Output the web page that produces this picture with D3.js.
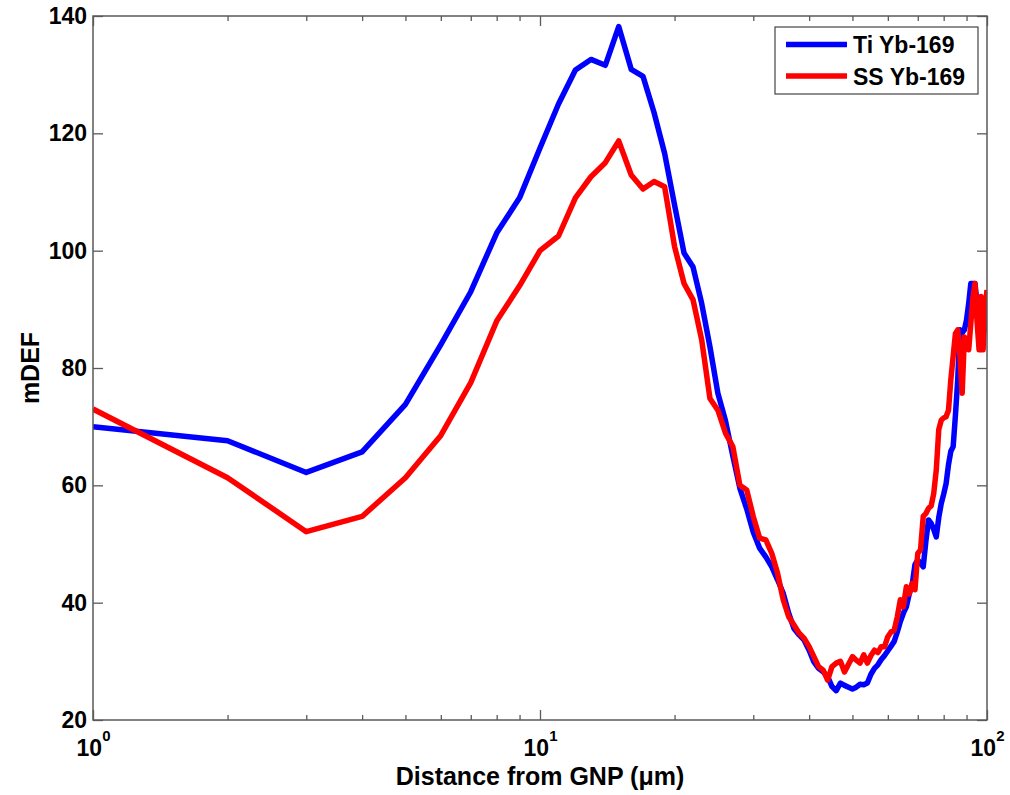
<!DOCTYPE html>
<html>
<head>
<meta charset="utf-8">
<script src="https://cdn.jsdelivr.net/npm/d3@7"></script>
<style>
  html, body { margin: 0; padding: 0; background: #fff; }
  svg { display: block; font-family: "Liberation Sans", Arial, Helvetica, sans-serif; font-weight: bold; }
</style>
</head>
<body>
<svg id="chart" width="1010" height="795"></svg>
<script>
// Distance from the gold nanoparticle (µm), one sample per micrometre
const distance = d3.range(1, 101);

// Ti Yb-169 dose enhancement (mDEF)
const tiYb169 = [
  70.0, 67.6, 62.2, 65.7, 73.8, 84.0, 93.0, 103.0, 109.0, 117.5,
  125.0, 130.8, 132.6, 131.6, 138.2, 130.9, 129.7, 123.5, 116.6, 107.8,
  99.6, 97.2, 91.0, 83.6, 75.7, 71.0, 65.0, 59.5, 56.0, 52.0,
  49.3, 47.8, 46.1, 43.9, 41.6, 38.2, 35.6, 34.5, 33.6, 31.9,
  29.9, 28.8, 28.2, 27.4, 25.7, 25.0, 26.3, 25.9, 25.6, 25.3,
  25.6, 26.1, 26.0, 26.3, 27.8, 28.8, 29.4, 30.3, 31.0, 31.8,
  32.6, 33.4, 35.0, 36.8, 38.2, 39.3, 41.5, 43.0, 46.5, 47.3,
  46.7, 46.1, 50.5, 54.1, 53.5, 52.5, 51.2, 54.5, 56.9, 58.5,
  60.3, 63.5, 65.8, 66.6, 72.0, 78.0, 86.5, 86.0, 86.5, 88.2,
  91.0, 94.4, 94.4, 94.4, 91.0, 88.0, 87.0, 86.5, 86.5, 87.0
];

// SS Yb-169 dose enhancement (mDEF)
const ssYb169 = [
  73.0, 61.3, 52.1, 54.7, 61.3, 68.5, 77.5, 88.0, 94.0, 100.0,
  102.5, 109.0, 112.6, 115.0, 118.7, 112.9, 110.5, 111.8, 110.9, 100.7,
  94.4, 91.6, 84.8, 74.8, 72.8, 68.9, 66.6, 60.0, 59.2, 54.7,
  51.0, 50.7, 48.4, 45.0, 40.5, 37.6, 36.2, 34.8, 33.9, 32.5,
  30.8, 29.1, 28.5, 26.8, 29.1, 29.7, 30.0, 28.2, 29.5, 30.8,
  30.2, 29.7, 31.1, 29.7, 31.0, 31.9, 31.5, 32.5, 32.5, 34.2,
  35.0, 35.3, 37.6, 40.5, 39.3, 42.7, 41.5, 43.3, 42.2, 48.4,
  49.0, 54.7, 55.2, 56.1, 56.5, 58.6, 62.6, 69.5, 71.1, 71.5,
  71.7, 72.8, 78.0, 82.0, 85.9, 86.5, 82.0, 75.7, 85.3, 84.5,
  83.1, 87.6, 92.0, 94.4, 88.0, 83.1, 92.2, 83.1, 90.0, 93.3
];

const seriesNames = ["Ti Yb-169", "SS Yb-169"];
const seriesColors = ["#0000ff", "#ff0000"];

const yTicks = [20, 40, 60, 80, 100, 120, 140];
const xMajorTicks = [1, 10, 100];
const xMajorExponents = ["0", "1", "2"];
const xMinorTicks = [2, 3, 4, 5, 6, 7, 8, 9, 20, 30, 40, 50, 60, 70, 80, 90];

const xLabel = "Distance from GNP (\u03bcm)";
const yLabel = "mDEF";

const plot = { left: 93, right: 987, top: 16, bottom: 720 };
const axisColor = "#5a5a5a";
const fontSize = 23;
const titleSize = 25;

const svg = d3.select("#chart");

const x = d3.scaleLog().domain([1, 100]).range([plot.left, plot.right]);
const y = d3.scaleLinear().domain([20, 140]).range([plot.bottom, plot.top]);

svg.append("defs").append("clipPath").attr("id", "plot-clip")
  .append("rect")
  .attr("x", plot.left).attr("y", plot.top)
  .attr("width", plot.right - plot.left).attr("height", plot.bottom - plot.top);

// Data lines
const line = d3.line()
  .x((d, i) => x(distance[i]))
  .y(d => y(d));

const lineLayer = svg.append("g").attr("clip-path", "url(#plot-clip)");
[tiYb169, ssYb169].forEach((vals, k) => {
  lineLayer.append("path")
    .datum(vals)
    .attr("d", line)
    .attr("fill", "none")
    .attr("stroke", seriesColors[k])
    .attr("stroke-width", 5.5)
    .attr("stroke-linejoin", "round")
    .attr("stroke-linecap", "butt");
});

// Axes (ticks pointing inward, box on all four sides)
function styleAxis(g) {
  g.select(".domain").remove();
  g.selectAll(".tick line").attr("stroke", axisColor).attr("stroke-width", 1.3);
  g.selectAll(".tick text")
    .attr("fill", "#000")
    .style("font-size", fontSize + "px")
    .style("font-weight", "bold")
    .style("font-family", "'Liberation Sans', Arial, sans-serif");
}

// left y axis with labels
svg.append("g")
  .attr("transform", `translate(${plot.left},0)`)
  .call(d3.axisLeft(y).tickValues(yTicks).tickSize(-10).tickPadding(6).tickFormat(d3.format("d")))
  .call(styleAxis);

// right y axis, ticks only
svg.append("g")
  .attr("transform", `translate(${plot.right},0)`)
  .call(d3.axisRight(y).tickValues(yTicks).tickSize(-10).tickFormat(""))
  .call(styleAxis);

// bottom x axis: minor ticks
svg.append("g")
  .attr("transform", `translate(0,${plot.bottom})`)
  .call(d3.axisBottom(x).tickValues(xMinorTicks).tickSize(-5).tickFormat(""))
  .call(styleAxis);

// bottom x axis: major ticks with power-of-ten labels
const xMajor = svg.append("g")
  .attr("transform", `translate(0,${plot.bottom})`)
  .call(d3.axisBottom(x).tickValues(xMajorTicks).tickSize(-10).tickFormat(""))
  .call(styleAxis);

xMajor.selectAll(".tick text").remove();
xMajor.selectAll(".tick").each(function (d, i) {
  const t = d3.select(this).append("text")
    .attr("y", 36)
    .attr("x", 0)
    .attr("text-anchor", "middle")
    .attr("fill", "#000")
    .style("font-size", fontSize + "px")
    .style("font-weight", "bold");
  t.append("tspan").text("10");
  t.append("tspan")
    .attr("dy", -15)
    .style("font-size", "15px")
    .text(xMajorExponents[i]);
});

// top x axis, ticks only
svg.append("g")
  .attr("transform", `translate(0,${plot.top})`)
  .call(d3.axisTop(x).tickValues(xMinorTicks).tickSize(-5).tickFormat(""))
  .call(styleAxis);
svg.append("g")
  .attr("transform", `translate(0,${plot.top})`)
  .call(d3.axisTop(x).tickValues(xMajorTicks).tickSize(-10).tickFormat(""))
  .call(styleAxis);

// plot box
svg.append("rect")
  .attr("x", plot.left).attr("y", plot.top)
  .attr("width", plot.right - plot.left).attr("height", plot.bottom - plot.top)
  .attr("fill", "none")
  .attr("stroke", axisColor)
  .attr("stroke-width", 1.5);

// axis titles
svg.append("text")
  .attr("x", (plot.left + plot.right) / 2)
  .attr("y", 785)
  .attr("text-anchor", "middle")
  .style("font-size", titleSize + "px")
  .text(xLabel);

svg.append("text")
  .attr("transform", `translate(39,${(plot.top + plot.bottom) / 2}) rotate(-90)`)
  .attr("text-anchor", "middle")
  .style("font-size", titleSize + "px")
  .text(yLabel);

// legend
const legend = svg.append("g");
legend.append("rect")
  .attr("x", 775).attr("y", 27)
  .attr("width", 203).attr("height", 67)
  .attr("fill", "#fff")
  .attr("stroke", "#444")
  .attr("stroke-width", 1.2);

seriesNames.forEach((name, k) => {
  const cy = 44.5 + k * 31.5;
  legend.append("line")
    .attr("x1", 786).attr("x2", 847)
    .attr("y1", cy).attr("y2", cy)
    .attr("stroke", seriesColors[k])
    .attr("stroke-width", 5.5);
  legend.append("text")
    .attr("x", 853)
    .attr("y", cy + 8.5)
    .style("font-size", fontSize + "px")
    .text(name);
});
</script>
</body>
</html>
